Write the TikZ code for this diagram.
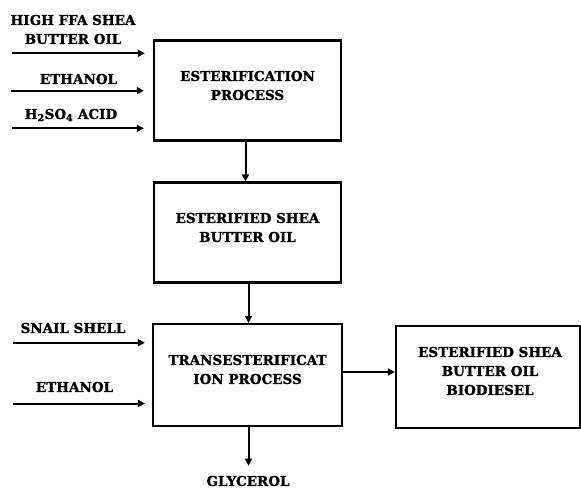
\documentclass[tikz,border=0pt]{standalone}
\usepackage{fontspec}
\setmainfont{DejaVu Serif}[BoldFeatures={FakeBold=1.5}]
\usetikzlibrary{arrows.meta}
\begin{document}
\begin{tikzpicture}[x=1pt,y=-1pt,
  box/.style={draw,line width=2.2pt,minimum width=187pt,minimum height=100pt,inner sep=0pt},
  txt/.style={align=center,font=\bfseries\fontsize{13.5}{19}\selectfont,inner sep=0pt},
  arr/.style={line width=2pt,-{Triangle[length=7pt,width=7pt]}}]
\useasboundingbox (0,0) rectangle (581,489);
% boxes
\node[box] (b1) at (247.5,90.5) {};
\node[box] (b2) at (247.5,232.5) {};
\node[box,minimum width=189pt,minimum height=102pt] (b3) at (247.5,375) {};
\node[box,minimum width=184pt,minimum height=102pt] (b4) at (488,377) {};
% box texts
\node[txt] (t1) at (247.5,85.5) {ESTERIFICATION\\PROCESS};
\node[txt] (t2) at (247.5,227.5) {ESTERIFIED SHEA\\BUTTER OIL};
\node[txt] (t3) at (247.5,369.5) {TRANSESTERIFICAT\\ION PROCESS};
\node[txt] (t4) at (490,371) {ESTERIFIED SHEA\\BUTTER OIL\\BIODIESEL};
% input labels
\node[txt] (l1) at (73,29.5) {HIGH FFA SHEA\\BUTTER OIL};
\node[txt] (l2) at (78.5,79) {ETHANOL};
\node[txt] (l3) at (71,115) {H\textsubscript{2}SO\textsubscript{4} ACID};
\node[txt] (l4) at (73,328) {SNAIL SHELL};
\node[txt] (l5) at (74.5,387) {ETHANOL};
\node[txt] (gly) at (248,481) {GLYCEROL};
% arrow starts
\coordinate (s1) at (12,53.3);
\coordinate (s2) at (11,90.7);
\coordinate (s3) at (12,128.3);
\coordinate (s4) at (13,342.7);
\coordinate (s5) at (13,403.5);
% connectors
\draw[arr,shorten >=8pt] (s1) -- (b1.west |- s1);
\draw[arr,shorten >=9pt] (s2) -- (b1.west |- s2);
\draw[arr,shorten >=9pt] (s3) -- (b1.west |- s3);
\draw[arr,shorten >=7pt] (s4) -- (b3.west |- s4);
\draw[arr,shorten >=7pt] (s5) -- (b3.west |- s5);
\draw[arr] ([xshift=-2pt]b1.south) -- ([xshift=-2pt]b2.north);
\draw[arr] ([xshift=1pt]b2.south) -- ([xshift=1pt]b3.north);
\draw[arr] ([yshift=3pt]b3.east) -- ([yshift=5pt]b4.west);
\draw[arr,shorten >=10pt] ([xshift=1pt]b3.south) -- ([xshift=1pt]b3.south |- gly.north);
\end{tikzpicture}
\end{document}
